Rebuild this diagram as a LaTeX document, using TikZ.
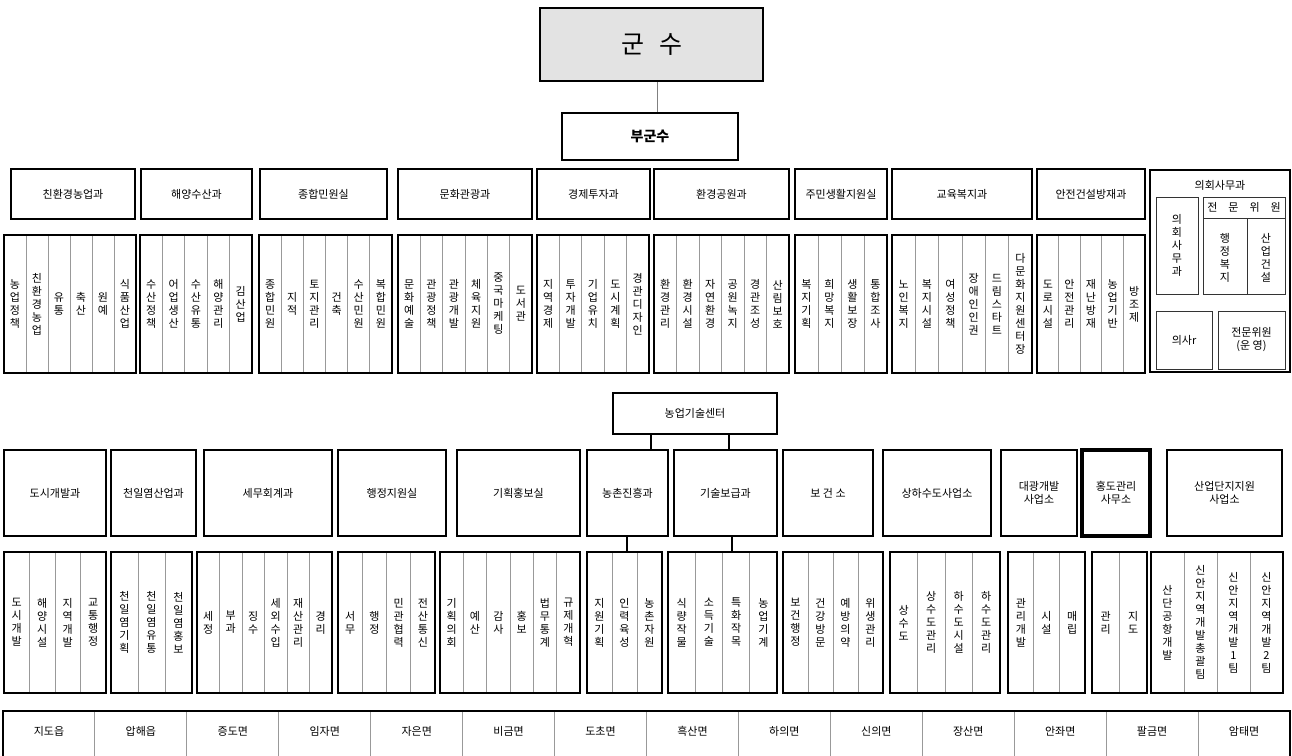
\documentclass[tikz,border=0pt]{standalone}
\usepackage{fontspec}
\setmainfont{Noto Sans CJK KR}
\usetikzlibrary{calc}
\definecolor{divgray}{gray}{0.6}
\definecolor{gunsufill}{gray}{0.89}
\makeatletter
\newcommand\vt[1]{\edef\vt@arg{#1}\def\vt@out{}\def\vt@sep{}%
  \expandafter\@tfor\expandafter\vt@c\expandafter:\expandafter=\vt@arg\do{%
    \edef\vt@out{\unexpanded\expandafter{\vt@out}\unexpanded\expandafter{\vt@sep}\vt@c}%
    \def\vt@sep{\\}}%
  \vt@out}
\makeatother
\tikzset{
  dept/.style={draw, line width=2.4pt, inner sep=0pt, font=\fontsize{11}{13}\selectfont, align=center},
  teambox/.style={draw, line width=2.6pt, inner sep=0pt},
  team/.style={inner sep=0pt, font=\fontsize{11}{13}\selectfont, align=center},
  thinbox/.style={draw=black!80, line width=0.9pt, inner sep=0pt, font=\fontsize{11}{13}\selectfont, align=center},
  div/.style={draw=divgray, line width=1pt},
  lbl/.style={inner sep=0pt, font=\fontsize{11}{13}\selectfont, align=center},
  conn/.style={draw, line width=2.4pt},
  topconn/.style={draw=gray, line width=0.9pt},
  gunsubox/.style={draw, line width=2pt, fill=gunsufill, inner sep=0pt, font=\fontsize{25}{28}\selectfont},
  bugunsubox/.style={draw, line width=2pt, inner sep=0pt, font=\fontsize{14}{16}\selectfont\bfseries},
  hongdo/.style={dept, line width=4pt}
}
\newcommand\rect[7][]{\node[#1, minimum width={(#5-#3)*1pt}, minimum height={(#6-#4)*1pt}] (#2) at ({(#3+#5)/2},{(#4+#6)/2}) {#7};}
\newcommand\teams[7]{%
  \pgfmathsetmacro\tw{(#4-#2)/#6}%
  \pgfmathtruncatemacro\tn{#6-1}%
  \foreach \k in {1,...,\tn}{\draw[div] ({#2+\k*\tw},#3) -- ({#2+\k*\tw},#5);}%
  \foreach \tm [count=\k] in {#7}{\node[team] (#1-\k) at ({#2+(\k-0.5)*\tw},{(#3+#5)/2}) {\vt{\tm}};}%
  \rect[teambox]{#1}{#2}{#3}{#4}{#5}{}%
}
\begin{document}
\begin{tikzpicture}[x=1pt,y=-1pt]
\useasboundingbox[fill=white] (0,0) rectangle (1292,755);

% top
\rect[gunsubox]{gunsu}{540}{8}{763}{81}{군\hspace{0.6em}수}
\rect[bugunsubox]{bugunsu}{562}{113}{738}{160}{부군수}
\draw[topconn] (gunsu.south -| 657,0) -- (bugunsu.north -| 657,0);

% row 1 departments
\rect[dept]{A1}{11}{169}{135}{219}{친환경농업과}
\rect[dept]{A2}{141}{169}{252}{219}{해양수산과}
\rect[dept]{A3}{260}{169}{387}{219}{종합민원실}
\rect[dept]{A4}{398}{169}{532}{219}{문화관광과}
\rect[dept]{A5}{537}{169}{650}{219}{경제투자과}
\rect[dept]{A6}{654}{169}{789}{219}{환경공원과}
\rect[dept]{A7}{795}{169}{887}{219}{주민생활지원실}
\rect[dept]{A8}{892}{169}{1032}{219}{교육복지과}
\rect[dept]{A9}{1037}{169}{1145}{219}{안전건설방재과}

% row 1 teams
\teams{A1t}{4}{235}{136}{373}{6}{농업정책,친환경농업,유통,축산,원예,식품산업}
\teams{A2t}{140}{235}{252}{373}{5}{수산정책,어업생산,수산유통,해양관리,김산업}
\teams{A3t}{259}{235}{392}{373}{6}{종합민원,지적,토지관리,건축,수산민원,복합민원}
\teams{A4t}{398}{235}{532}{373}{6}{문화예술,관광정책,관광개발,체육지원,중국마케팅,도서관}
\teams{A5t}{537}{235}{649}{373}{5}{지역경제,투자개발,기업유치,도시계획,경관디자인}
\teams{A6t}{654}{235}{789}{373}{6}{환경관리,환경시설,자연환경,공원녹지,경관조성,산림보호}
\teams{A7t}{795}{235}{887}{373}{4}{복지기획,희망복지,생활보장,통합조사}
\teams{A8t}{892}{235}{1032}{373}{6}{노인복지,복지시설,여성정책,장애인인권,드림스타트,다문화지원센터장}
\teams{A9t}{1037}{235}{1145}{373}{5}{도로시설,안전관리,재난방재,농업기반,방조제}

% council secretariat
\rect[dept]{A10}{1150}{170}{1290}{372}{}
\node[lbl] (A10l) at (1220,185) {의회사무과};
\rect[thinbox]{A10a}{1156}{197}{1198}{294}{\vt{의회사무과}}
\rect[thinbox]{A10b}{1203}{197}{1285}{294}{}
\draw[draw=black!80, line width=0.9pt] (1203,218) -- (1285,218);
\draw[draw=black!80, line width=0.9pt] (1247,218) -- (1247,294);
\node[lbl] (A10h) at (1244,207) {전\quad 문\quad 위\quad 원};
\node[lbl] (A10c) at (1225,258) {\vt{행정복지}};
\node[lbl] (A10d) at (1266,258) {\vt{산업건설}};
\rect[thinbox]{A10e}{1156}{311}{1212}{369}{의사r}
\rect[thinbox]{A10f}{1218}{311}{1285}{369}{전문위원\\(운\ 영)}

% row 2
\rect[dept]{NT}{613}{393}{777}{434}{농업기술센터}
\rect[dept]{B1}{4}{450}{106}{536}{도시개발과}
\rect[dept]{B2}{111}{450}{196}{536}{천일염산업과}
\rect[dept]{B3}{204}{450}{332}{536}{세무회계과}
\rect[dept]{B4}{338}{450}{446}{536}{행정지원실}
\rect[dept]{B5}{457}{450}{580}{536}{기획홍보실}
\rect[dept]{B6}{587}{450}{668}{536}{농촌진흥과}
\rect[dept]{B7}{674}{450}{777}{536}{기술보급과}
\rect[dept]{B8}{783}{450}{873}{536}{보\ 건\ 소}
\rect[dept]{B9}{883}{450}{991}{536}{상하수도사업소}
\rect[dept]{B10}{1001}{450}{1077}{536}{대광개발\\사업소}
\rect[hongdo]{B11}{1082}{450}{1150}{536}{홍도관리\\사무소}
\rect[dept]{B12}{1167}{450}{1282}{536}{산업단지지원\\사업소}

\draw[conn] (NT.south -| 651,0) -- (B6.north -| 651,0);
\draw[conn] (NT.south -| 729,0) -- (B7.north -| 729,0);

\teams{B1t}{4}{552}{106}{693}{4}{도시개발,해양시설,지역개발,교통행정}
\teams{B2t}{111}{552}{192}{693}{3}{천일염기획,천일염유통,천일염홍보}
\teams{B3t}{197}{552}{332}{693}{6}{세정,부과,징수,세외수입,재산관리,경리}
\teams{B4t}{338}{552}{435}{693}{4}{서무,행정,민관협력,전산통신}
\teams{B5t}{440}{552}{580}{693}{6}{기획의회,예산,감사,홍보,법무통계,규제개혁}
\teams{B6t}{587}{552}{662}{693}{3}{지원기획,인력육성,농촌자원}
\teams{B7t}{668}{552}{777}{693}{4}{식량작물,소득기술,특화작목,농업기계}
\teams{B8t}{783}{552}{883}{693}{4}{보건행정,건강방문,예방의약,위생관리}
\teams{B9t}{890}{552}{1000}{693}{4}{상수도,상수도관리,하수도시설,하수도관리}
\teams{B10t}{1008}{552}{1085}{693}{3}{관리개발,시설,매립}
\teams{B11t}{1092}{552}{1147}{693}{2}{관리,지도}
\teams{B12t}{1151}{552}{1283}{693}{4}{산단공항개발,신안지역개발총괄팀,신안지역개발1팀,신안지역개발2팀}

\draw[conn] (B6.south -| 627,0) -- (B6t.north -| 627,0);
\draw[conn] (B7.south -| 732,0) -- (B7t.north -| 732,0);

% bottom row: towns
\foreach \k in {1,...,13}{\draw[div] ({3+\k*91.93},711) -- ({3+\k*91.93},758);}
\foreach \nm [count=\k] in {지도읍,압해읍,증도면,임자면,자은면,비금면,도초면,흑산면,하의면,신의면,장산면,안좌면,팔금면,암태면}{\node[lbl] (C-\k) at ({3+(\k-0.5)*91.93},731) {\nm};}
\rect[teambox]{C}{3}{711}{1290}{758}{}
\end{tikzpicture}
\end{document}
